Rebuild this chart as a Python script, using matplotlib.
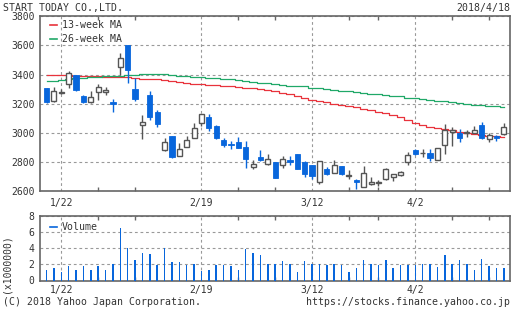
import matplotlib
matplotlib.use("Agg")
import matplotlib.pyplot as plt
from matplotlib.ticker import FixedLocator
import numpy as np

# ---------------- data ----------------
dates = ["1/18", "1/19", "1/22", "1/23", "1/24", "1/25", "1/26", "1/29", "1/30", "1/31",
         "2/1", "2/2", "2/5", "2/6", "2/7", "2/8", "2/9", "2/13", "2/14", "2/15",
         "2/16", "2/19", "2/20", "2/21", "2/22", "2/23", "2/26", "2/27", "2/28", "3/1",
         "3/2", "3/5", "3/6", "3/7", "3/8", "3/9", "3/12", "3/13", "3/14", "3/15",
         "3/16", "3/19", "3/20", "3/22", "3/23", "3/26", "3/27", "3/28", "3/29", "3/30",
         "4/2", "4/3", "4/4", "4/5", "4/6", "4/9", "4/10", "4/11", "4/12", "4/13",
         "4/16", "4/17", "4/18"]

opens = [3306, 3215, 3272, 3333, 3397, 3254, 3208, 3283, 3277, 3210,
         3450, 3605, 3301, 3051, 3260, 3140, 2884, 2977, 2839, 2900,
         2966, 3068, 3111, 3048, 2950, 2923, 2934, 2902, 2764, 2834,
         2786, 2800, 2779, 2811, 2853, 2802, 2777, 2662, 2754, 2724,
         2775, 2703, 2678, 2628, 2648, 2655, 2680, 2697, 2713, 2800,
         2885, 2858, 2864, 2816, 2915, 3002, 3000, 2998, 2998, 3055,
         2959, 2977, 2993]
highs = [3310, 3317, 3300, 3425, 3400, 3258, 3288, 3336, 3313, 3235,
         3545, 3605, 3374, 3124, 3288, 3158, 2961, 2977, 2932, 2977,
         3068, 3132, 3127, 3055, 2961, 2943, 2970, 2943, 2811, 2882,
         2852, 2800, 2837, 2841, 2853, 2805, 2777, 2809, 2763, 2816,
         2775, 2747, 2683, 2775, 2694, 2674, 2757, 2717, 2740, 2871,
         2888, 2890, 2890, 2897, 3057, 3041, 3023, 3016, 3044, 3076,
         2995, 2988, 3069]
lows = [3205, 3210, 3266, 3310, 3288, 3205, 3205, 3222, 3260, 3140,
        3397, 3345, 3215, 2957, 3090, 3037, 2875, 2830, 2839, 2900,
        2966, 3045, 3014, 2959, 2905, 2889, 2893, 2761, 2754, 2809,
        2777, 2686, 2756, 2777, 2752, 2694, 2680, 2648, 2708, 2724,
        2710, 2683, 2616, 2628, 2641, 2634, 2678, 2667, 2703, 2779,
        2850, 2832, 2809, 2812, 2851, 2908, 2940, 2972, 2998, 2959,
        2936, 2943, 2984]
closes = [3210, 3288, 3280, 3408, 3295, 3208, 3245, 3313, 3295, 3200,
          3511, 3431, 3233, 3073, 3108, 3062, 2934, 2834, 2886, 2948,
          3030, 3127, 3036, 2966, 2914, 2914, 2898, 2823, 2784, 2816,
          2818, 2691, 2821, 2802, 2754, 2717, 2703, 2805, 2717, 2782,
          2717, 2708, 2660, 2726, 2664, 2658, 2752, 2717, 2733, 2844,
          2851, 2862, 2828, 2897, 3021, 3021, 2963, 3002, 3021, 2963,
          2986, 2961, 3041]

volumes = [1.3, 1.6, 1.1, 1.8, 1.3, 1.8, 1.3, 1.8, 1.3, 2.0,
           6.6, 4.0, 2.6, 3.4, 3.3, 1.9, 4.1, 2.3, 2.3, 1.9,
           2.1, 1.2, 1.3, 1.9, 1.9, 1.8, 1.3, 3.9, 3.4, 3.2,
           2.0, 2.0, 2.4, 2.1, 1.0, 2.4, 2.0, 2.1, 1.9, 2.0,
           1.9, 1.0, 1.5, 2.5, 2.1, 1.9, 2.5, 1.5, 1.9, 1.9,
           1.9, 2.1, 2.0, 1.7, 3.2, 2.0, 2.6, 2.1, 1.3, 2.7,
           1.8, 1.6, 1.6]

ma13 = [3400, 3400, 3398, 3395, 3392, 3390, 3390, 3388, 3386, 3384,
        3382, 3380, 3376, 3372, 3370, 3368, 3362, 3358, 3350, 3345,
        3338, 3333, 3330, 3325, 3322, 3318, 3313, 3310, 3305, 3298,
        3293, 3285, 3276, 3264, 3255, 3240, 3228, 3215, 3208, 3200,
        3193, 3185, 3175, 3165, 3155, 3145, 3135, 3120, 3105, 3085,
        3068, 3055, 3042, 3035, 3025, 3018, 3008, 3000, 2992, 2987,
        2980, 2975, 2972]
ma26 = [3354, 3356, 3363, 3368, 3374, 3378, 3381, 3384, 3390, 3391,
        3392, 3394, 3400, 3401, 3402, 3402, 3402, 3400, 3393, 3391,
        3385, 3380, 3378, 3375, 3370, 3367, 3362, 3358, 3352, 3345,
        3342, 3334, 3330, 3322, 3320, 3318, 3310, 3305, 3298, 3295,
        3287, 3284, 3282, 3272, 3268, 3265, 3256, 3254, 3250, 3240,
        3238, 3230, 3227, 3217, 3215, 3212, 3202, 3200, 3193, 3192,
        3187, 3186, 3178]

major_labels = ["1/22", "2/19", "3/12", "4/2"]
monday_labels = ["1/22", "1/29", "2/5", "2/19", "2/26", "3/5", "3/12", "3/19",
                 "3/26", "4/2", "4/9", "4/16"]
price_ticks = [2600, 2800, 3000, 3200, 3400, 3600, 3800]
vol_ticks = [0, 2, 4, 6, 8]

# ---------------- style ----------------
plt.rcParams['font.family'] = ['DejaVu Sans Mono']
FS = 7
FT = 7.1
TXT = '#333333'
FRAME = '#666666'
GRID = '#999999'
BLUE = '#0866dc'
HOLLOW = '#555555'
RED = '#e8333c'
GREEN = '#20a868'

W, H = 512, 310
fig = plt.figure(figsize=(W / 100, H / 100), dpi=100)

def rect(l, t, r, b):
    return [l / W, 1 - b / H, (r - l) / W, (b - t) / H]

ax = fig.add_axes(rect(40, 16.3, 510, 191))
axv = fig.add_axes(rect(40, 216.3, 510, 280.5))

x = np.arange(len(dates))
major_pos = [dates.index(d) for d in major_labels]
minor_pos = [dates.index(d) for d in monday_labels if d not in major_labels]
xl = (-0.89, 62.84)

def style(a):
    for s in a.spines.values():
        s.set_color(FRAME)
        s.set_linewidth(1.2)
    a.set_xlim(*xl)
    a.xaxis.set_major_locator(FixedLocator(major_pos))
    a.xaxis.set_minor_locator(FixedLocator(minor_pos))
    a.set_xticklabels(major_labels)
    a.tick_params(axis='x', which='major', length=0, labelsize=FS, colors=TXT, pad=5)
    a.tick_params(axis='x', which='minor', length=3, width=1, color=FRAME,
                  direction='in', top=True, bottom=True)
    a.tick_params(axis='y', length=0, labelsize=FS, colors=TXT, pad=4)
    a.grid(True, which='major', color=GRID, linestyle=(0, (2.5, 2.5)), linewidth=0.8)
    a.set_axisbelow(True)

# ---------------- price panel ----------------
style(ax)
ax.set_ylim(2600, 3800)
ax.set_yticks(price_ticks)

ax.plot(x, ma13, color=RED, linewidth=0.9, drawstyle='steps-mid', zorder=2)
ax.plot(x, ma26, color=GREEN, linewidth=0.9, drawstyle='steps-mid', zorder=2)

o = np.array(opens); c = np.array(closes)
up = c >= o
wick_cols = [HOLLOW if u else BLUE for u in up]
ax.vlines(x, lows, highs, colors=wick_cols, linewidth=1, zorder=3)
bottoms = np.minimum(o, c)
heights = np.maximum(np.abs(c - o), 4)
ax.bar(x[up], heights[up], bottom=bottoms[up], width=0.68,
       facecolor='white', edgecolor=HOLLOW, linewidth=1, zorder=4)
ax.bar(x[~up], heights[~up], bottom=bottoms[~up], width=0.72,
       facecolor=BLUE, edgecolor=BLUE, linewidth=0.6, zorder=4)

# legend
for i, (lab, col) in enumerate([("13-week MA", RED), ("26-week MA", GREEN)]):
    yy = 0.948 - i * 0.08
    ax.plot([0.022, 0.036], [yy, yy], color=col, linewidth=1.2, transform=ax.transAxes,
            clip_on=False, zorder=5)
    ax.text(0.046, yy, lab, transform=ax.transAxes, fontsize=FT, color=TXT,
            va='center', ha='left', zorder=5)

# ---------------- volume panel ----------------
style(axv)
axv.set_ylim(0, 8)
axv.set_yticks(vol_ticks)
axv.bar(x, volumes, width=0.2, color=BLUE, zorder=3)
axv.plot([0.022, 0.036], [0.84, 0.84], color=BLUE, linewidth=1.2, transform=axv.transAxes)
axv.text(0.046, 0.84, "Volume", transform=axv.transAxes, fontsize=FT, color=TXT,
         va='center', ha='left')
axv.tick_params(axis='x', which='major', pad=3)

# ---------------- texts ----------------
fig.text(3 / W, 1 - 8 / H, "START TODAY CO.,LTD.", fontsize=FT, color=TXT,
         ha='left', va='center')
fig.text(510 / W, 1 - 8 / H, "2018/4/18", fontsize=FT, color=TXT,
         ha='right', va='center')
fig.text(3 / W, 1 - 302 / H, "(C) 2018 Yahoo Japan Corporation.", fontsize=FT,
         color=TXT, ha='left', va='center')
fig.text(510 / W, 1 - 302 / H, "https://stocks.finance.yahoo.co.jp", fontsize=FT,
         color=TXT, ha='right', va='center')
fig.text(7 / W, 1 - 264 / H, "(x1000000)", fontsize=FS, color=TXT, rotation=90,
         ha='center', va='center')

fig.savefig("out.png", dpi=100, facecolor='white')
